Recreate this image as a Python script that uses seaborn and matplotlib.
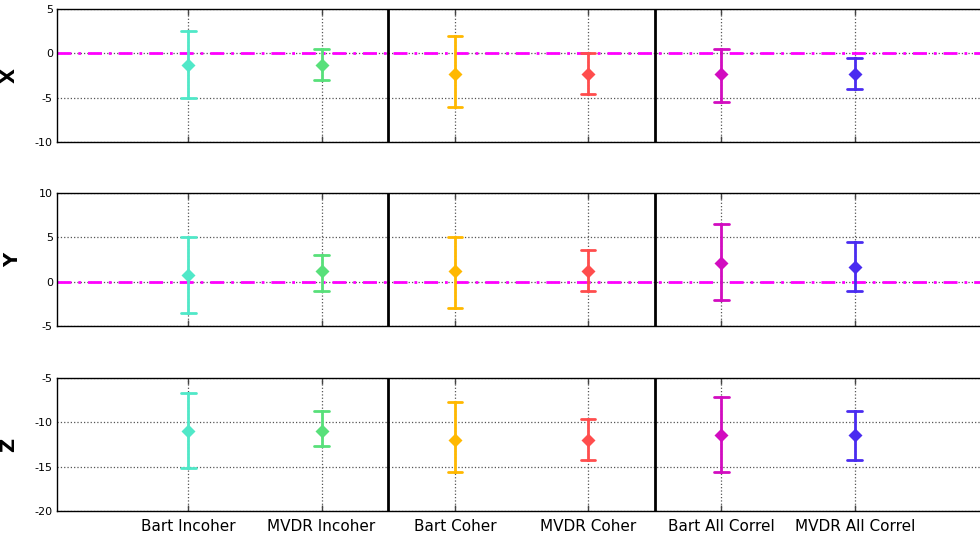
import matplotlib
matplotlib.use("Agg")
import matplotlib.pyplot as plt
import seaborn as sns
import pandas as pd

categories = ["Bart Incoher", "MVDR Incoher", "Bart Coher", "MVDR Coher",
              "Bart All Correl", "MVDR All Correl"]
colors = ["#50e8c8", "#58e07a", "#ffb800", "#ff4d4d", "#d20cc0", "#4a2cf0"]

x_mid = [-1.3, -1.3, -2.35, -2.35, -2.35, -2.35]
x_lo = [-5.0, -3.0, -6.05, -4.55, -5.5, -4.0]
x_hi = [2.5, 0.45, 2.0, 0.05, 0.45, -0.55]

y_mid = [0.75, 1.2, 1.2, 1.2, 2.15, 1.7]
y_lo = [-3.55, -1.05, -3.0, -1.05, -2.05, -1.05]
y_hi = [5.05, 3.0, 5.05, 3.55, 6.5, 4.5]

z_mid = [-11.0, -11.0, -12.0, -12.0, -11.4, -11.4]
z_lo = [-15.15, -12.7, -15.6, -14.2, -15.6, -14.2]
z_hi = [-6.7, -8.65, -7.7, -9.65, -7.1, -8.65]

panels = [
    ("X", x_mid, x_lo, x_hi, (-10, 5), [-10, -5, 0, 5], True),
    ("Y", y_mid, y_lo, y_hi, (-5, 10), [-5, 0, 5, 10], True),
    ("Z", z_mid, z_lo, z_hi, (-20, -5), [-20, -15, -10, -5], False),
]

sns.set_style("white")
plt.rcParams["font.family"] = ["DejaVu Sans"]

fig = plt.figure(figsize=(9.8, 5.37), dpi=100)
left = 57 / 980
width = 931 / 980
bottoms = [1 - 142 / 537, 1 - 325.7 / 537, 1 - 510.7 / 537]
heights = [133 / 537, 132.4 / 537, 132.4 / 537]

for (name, mid, lo, hi, ylim, yticks, zero), b, h in zip(panels, bottoms, heights):
    ax = fig.add_axes([left, b, width, h])
    rows = []
    for c, m, l, u in zip(categories, mid, lo, hi):
        for v in (l, m, u):
            rows.append({"cat": c, "val": v})
    df = pd.DataFrame(rows)
    sns.pointplot(data=df, x="cat", y="val", hue="cat", order=categories,
                  hue_order=categories, palette=colors, estimator="median",
                  errorbar=("pi", 100), capsize=0.11, markers="D",
                  linestyles="none", legend=False, ax=ax,
                  err_kws={"linewidth": 2}, markersize=5, zorder=3)
    ax.set_axisbelow(True)
    ax.grid(True, which="major", axis="both", color="#555555",
            linestyle=":", linewidth=0.9)
    if zero:
        ax.axhline(0, color="#ff00ff", linestyle=(0, (5, 2.5, 1, 2.5)),
                   linewidth=2, zorder=2)
    for sep in (1.5, 3.5):
        ax.axvline(sep, color="black", linewidth=2, zorder=4)
    ax.set_xlim(-0.985, 6)
    ax.set_ylim(*ylim)
    ax.set_yticks(yticks)
    ax.set_yticklabels([str(t) for t in yticks], fontsize=8, color="black")
    ax.set_xticks(range(len(categories)))
    if name == "Z":
        ax.set_xticklabels(categories, fontsize=11, color="black")
    else:
        ax.set_xticklabels([])
    ax.set_xlabel("")
    ax.set_ylabel(name, fontsize=14, fontweight="bold", labelpad=12,
                  color="black")
    ax.tick_params(axis="x", direction="in", top=True, bottom=True,
                   length=4, width=1, color="#444444", pad=6)
    ax.tick_params(axis="y", direction="in", left=True, length=0, pad=3)
    for s in ("left", "top", "bottom"):
        ax.spines[s].set_color("black")
        ax.spines[s].set_linewidth(1)
    ax.spines["right"].set_visible(False)

fig.savefig("out.png", dpi=100)
